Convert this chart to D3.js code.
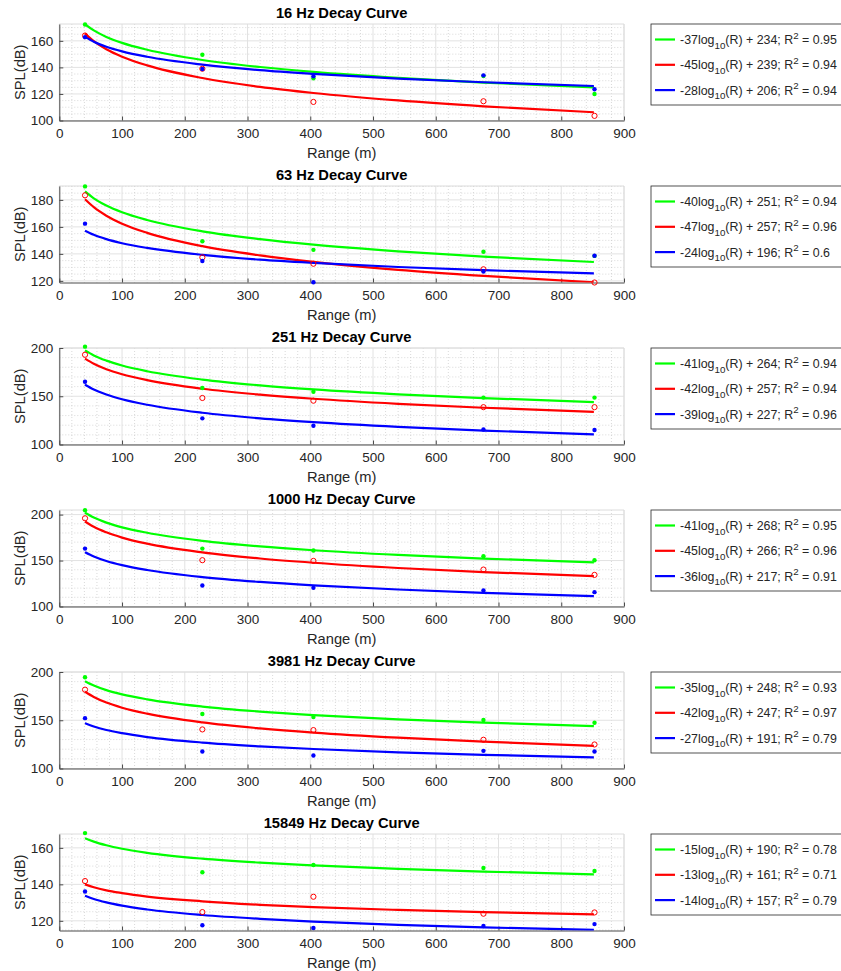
<!DOCTYPE html>
<html><head><meta charset="utf-8">
<script src="https://cdn.jsdelivr.net/npm/d3@7"></script>
<style>body{margin:0;background:#fff} svg{display:block}</style>
</head><body>
<svg id="chart" width="841" height="971"></svg>
<script>
// ---------------- DATA ----------------
const freqs = [16, 63, 251, 1000, 3981, 15849];
const titles = ["16 Hz Decay Curve", "63 Hz Decay Curve", "251 Hz Decay Curve", "1000 Hz Decay Curve", "3981 Hz Decay Curve", "15849 Hz Decay Curve"];
const seriesNames = ["green", "red", "blue"];

// measured ranges (m)
const rangeMeas = [41, 228, 405, 676, 853];
// measured SPL (dB) per panel
const measGreen = [
  [172.3, 149.5, 131.8, 133.5, 120.0],
  [190.0, 149.4, 143.0, 141.6, 138.5],
  [201.4, 158.5, 154.6, 148.6, 148.6],
  [204.8, 163.0, 160.9, 154.7, 150.4],
  [194.5, 156.4, 153.3, 150.2, 147.4],
  [168.1, 146.6, 150.6, 149.0, 147.3]
];
const measRed = [
  [164.0, 139.0, 114.0, 114.5, 103.5],
  [183.4, 137.4, 132.7, 128.6, 118.8],
  [193.0, 148.2, 145.4, 138.7, 138.7],
  [196.0, 150.4, 149.6, 140.2, 134.4],
  [181.7, 140.5, 139.8, 129.8, 124.9],
  [141.8, 124.8, 133.2, 123.9, 124.6]
];
const measBlue = [
  [162.8, 138.8, 133.3, 134.0, 123.5],
  [162.4, 134.7, 119.0, 126.9, 138.6],
  [165.1, 127.1, 119.4, 115.5, 115.1],
  [163.0, 122.8, 120.3, 117.4, 115.6],
  [152.2, 117.6, 113.5, 118.3, 117.6],
  [136.1, 117.6, 116.1, 117.2, 118.2]
];

// fitted curves at these ranges (m)
const rangeFit = [41, 55, 75, 100, 140, 228, 320, 405, 540, 676, 852];
const fitGreen = [
  [172.5, 167.9, 163.0, 158.5, 153.3, 145.6, 140.3, 136.6, 132.1, 128.6, 125.0],
  [186.3, 181.2, 175.9, 170.9, 165.1, 156.7, 150.9, 146.8, 141.9, 138.0, 134.0],
  [197.5, 192.3, 186.9, 181.8, 175.9, 167.3, 161.3, 157.1, 152.0, 148.1, 144.0],
  [202.0, 196.8, 191.3, 186.1, 180.2, 171.5, 165.4, 161.2, 156.1, 152.1, 148.0],
  [190.5, 186.0, 181.2, 176.8, 171.7, 164.2, 159.0, 155.4, 151.0, 147.6, 144.0],
  [165.3, 163.4, 161.4, 159.5, 157.3, 154.1, 151.9, 150.4, 148.5, 147.0, 145.5]
];
const fitRed = [
  [165.5, 159.8, 153.7, 148.1, 141.5, 132.0, 125.3, 120.7, 115.1, 110.7, 106.2],
  [180.5, 174.6, 168.3, 162.4, 155.6, 145.7, 138.9, 134.1, 128.2, 123.7, 119.0],
  [189.0, 183.7, 178.0, 172.8, 166.7, 157.8, 151.7, 147.4, 142.2, 138.1, 133.9],
  [192.5, 186.7, 180.7, 175.0, 168.4, 158.9, 152.2, 147.6, 141.9, 137.5, 133.0],
  [179.5, 174.1, 168.3, 163.0, 156.8, 147.8, 141.6, 137.2, 131.9, 127.8, 123.5],
  [140.0, 138.4, 136.7, 135.2, 133.3, 130.7, 128.8, 127.5, 126.0, 124.8, 123.5]
];
const fitBlue = [
  [163.0, 159.4, 155.6, 152.1, 148.0, 142.1, 137.9, 135.1, 131.6, 128.8, 126.0],
  [157.2, 154.1, 150.9, 147.9, 144.4, 139.3, 135.7, 133.3, 130.3, 127.9, 125.5],
  [162.0, 157.0, 151.8, 146.9, 141.2, 132.9, 127.1, 123.1, 118.2, 114.4, 110.5],
  [159.0, 154.4, 149.5, 145.0, 139.7, 132.0, 126.7, 123.0, 118.5, 114.9, 111.3],
  [147.0, 143.6, 139.9, 136.6, 132.6, 126.9, 123.0, 120.2, 116.8, 114.2, 111.5],
  [133.8, 132.0, 130.1, 128.3, 126.2, 123.2, 121.1, 119.6, 117.8, 116.4, 115.0]
];

// legend coefficients
const slopes = [[-37, -45, -28], [-40, -47, -24], [-41, -42, -39], [-41, -45, -36], [-35, -42, -27], [-15, -13, -14]];
const intercepts = [[234, 239, 206], [251, 257, 196], [264, 257, 227], [268, 266, 217], [248, 247, 191], [190, 161, 157]];
const rSquared = [["0.95", "0.94", "0.94"], ["0.94", "0.96", "0.6"], ["0.94", "0.94", "0.96"], ["0.95", "0.96", "0.91"], ["0.93", "0.97", "0.79"], ["0.78", "0.71", "0.79"]];

// axes
const xTicks = [0, 100, 200, 300, 400, 500, 600, 700, 800, 900];
const yDomains = [[100, 172.7], [118.8, 190.3], [100, 200], [100, 205], [100, 200], [114.7, 167.6]];
const yTicks = [[100, 120, 140, 160], [120, 140, 160, 180], [100, 150, 200], [100, 150, 200], [100, 150, 200], [120, 140, 160]];
const yMinorSteps = [5, 5, 10, 10, 10, 5];

// ---------------- DRAW ----------------
const svg = d3.select("#chart");
const FONT = "'Liberation Sans', Arial, Helvetica, sans-serif";
const TXT = "#262626";
const COLORS = { green: "#00ff00", red: "#ff0000", blue: "#0000ff" };
const left = 59.3, right = 624;
const x = d3.scaleLinear().domain([0, 900]).range([left, right]);

const meas = { green: measGreen, red: measRed, blue: measBlue };
const fits = { green: fitGreen, red: fitRed, blue: fitBlue };

freqs.forEach((f, i) => {
  const top = 24 + 162 * i;
  const bottom = top + 96.5;
  const y = d3.scaleLinear().domain(yDomains[i]).range([bottom, top]);
  const g = svg.append("g");
  const clipId = "clip" + i;
  svg.append("clipPath").attr("id", clipId).append("rect")
    .attr("x", left).attr("y", top).attr("width", right - left).attr("height", bottom - top);

  // minor grid
  const xMinor = d3.range(0, 901, 20).filter(v => v % 100 !== 0);
  g.append("g").selectAll("line").data(xMinor).join("line")
    .attr("x1", d => x(d)).attr("x2", d => x(d)).attr("y1", top).attr("y2", bottom)
    .attr("stroke", "#c8c8c8").attr("stroke-width", 0.7).attr("stroke-dasharray", "1,2");
  const st = yMinorSteps[i];
  const [d0, d1] = yDomains[i];
  const yMinor = d3.range(Math.ceil(d0 / st) * st, d1 + 1e-6, st).filter(v => !yTicks[i].includes(v));
  g.append("g").selectAll("line").data(yMinor).join("line")
    .attr("x1", left).attr("x2", right).attr("y1", d => y(d)).attr("y2", d => y(d))
    .attr("stroke", "#c8c8c8").attr("stroke-width", 0.7).attr("stroke-dasharray", "1,2");
  // major grid
  g.append("g").selectAll("line").data(xTicks).join("line")
    .attr("x1", d => x(d)).attr("x2", d => x(d)).attr("y1", top).attr("y2", bottom)
    .attr("stroke", "#e2e2e2").attr("stroke-width", 1);
  g.append("g").selectAll("line").data(yTicks[i]).join("line")
    .attr("x1", left).attr("x2", right).attr("y1", d => y(d)).attr("y2", d => y(d))
    .attr("stroke", "#e2e2e2").attr("stroke-width", 1);
  // light top / right border
  g.append("path").attr("d", `M${left},${top}H${right}V${bottom}`)
    .attr("fill", "none").attr("stroke", "#dcdcdc").attr("stroke-width", 1);

  // axes
  const xAxis = d3.axisBottom(x).tickValues(xTicks).tickSizeInner(-4).tickSizeOuter(0).tickPadding(8);
  const gx = g.append("g").attr("transform", `translate(0,${bottom})`).call(xAxis);
  const yAxis = d3.axisLeft(y).tickValues(yTicks[i]).tickSizeInner(-4).tickSizeOuter(0).tickPadding(6);
  const gy = g.append("g").attr("transform", `translate(${left},0)`).call(yAxis);
  [gx, gy].forEach(a => {
    a.select(".domain").attr("stroke", "#4a4a4a").attr("stroke-width", 1);
    a.selectAll(".tick line").attr("stroke", "#4a4a4a");
    a.selectAll(".tick text").attr("fill", TXT).style("font-family", FONT).style("font-size", "13.5px");
  });

  // curves
  const line = d3.line().x(d => x(d[0])).y(d => y(d[1])).curve(d3.curveMonotoneX);
  const cg = g.append("g").attr("clip-path", `url(#${clipId})`);
  seriesNames.forEach(s => {
    const pts = rangeFit.map((r, k) => [r, fits[s][i][k]]);
    cg.append("path").datum(pts).attr("d", line)
      .attr("fill", "none").attr("stroke", COLORS[s]).attr("stroke-width", 2.2);
  });
  // markers
  seriesNames.forEach(s => {
    const pts = rangeMeas.map((r, k) => [r, meas[s][i][k]]);
    const sel = g.append("g").selectAll("circle").data(pts).join("circle")
      .attr("cx", d => x(d[0])).attr("cy", d => y(d[1]));
    if (s === "red") {
      sel.attr("r", 2.6).attr("fill", "none").attr("stroke", COLORS[s]).attr("stroke-width", 1);
    } else {
      sel.attr("r", 2.2).attr("fill", COLORS[s]);
    }
  });

  // title
  g.append("text").attr("x", (left + right) / 2).attr("y", top - 6)
    .attr("text-anchor", "middle").attr("fill", "#000")
    .style("font-family", FONT).style("font-size", "14.7px").style("font-weight", "bold")
    .text(titles[i]);
  // x label
  g.append("text").attr("x", (left + right) / 2).attr("y", bottom + 37)
    .attr("text-anchor", "middle").attr("fill", TXT)
    .style("font-family", FONT).style("font-size", "14.7px").text("Range (m)");
  // y label
  g.append("text").attr("transform", `translate(25,${(top + bottom) / 2}) rotate(-90)`)
    .attr("text-anchor", "middle").attr("fill", TXT)
    .style("font-family", FONT).style("font-size", "14.7px").text("SPL(dB)");

  // legend
  const lx = 651, lw = 210, lh = 81;
  const lg = g.append("g");
  lg.append("rect").attr("x", lx).attr("y", top).attr("width", lw).attr("height", lh)
    .attr("fill", "#fff").attr("stroke", "#262626").attr("stroke-width", 0.8);
  seriesNames.forEach((s, k) => {
    const ry = top + 15.5 + 25.3 * k;
    lg.append("line").attr("x1", 655).attr("x2", 675).attr("y1", ry).attr("y2", ry)
      .attr("stroke", COLORS[s]).attr("stroke-width", 2.2);
    const t = lg.append("text").attr("x", 680).attr("y", ry + 4.5).attr("fill", TXT)
      .style("font-family", FONT).style("font-size", "12.4px").style("white-space", "pre");
    t.append("tspan").text(`${slopes[i][k]}log`);
    t.append("tspan").attr("dy", 4.5).style("font-size", "9.8px").text("10");
    t.append("tspan").attr("dy", -4.5).text(`(R) + ${intercepts[i][k]}; R`);
    t.append("tspan").attr("dy", -5.5).style("font-size", "9.8px").text("2");
    t.append("tspan").attr("dy", 5.5).text(` = ${rSquared[i][k]}`);
  });
});
</script>
</body></html>
